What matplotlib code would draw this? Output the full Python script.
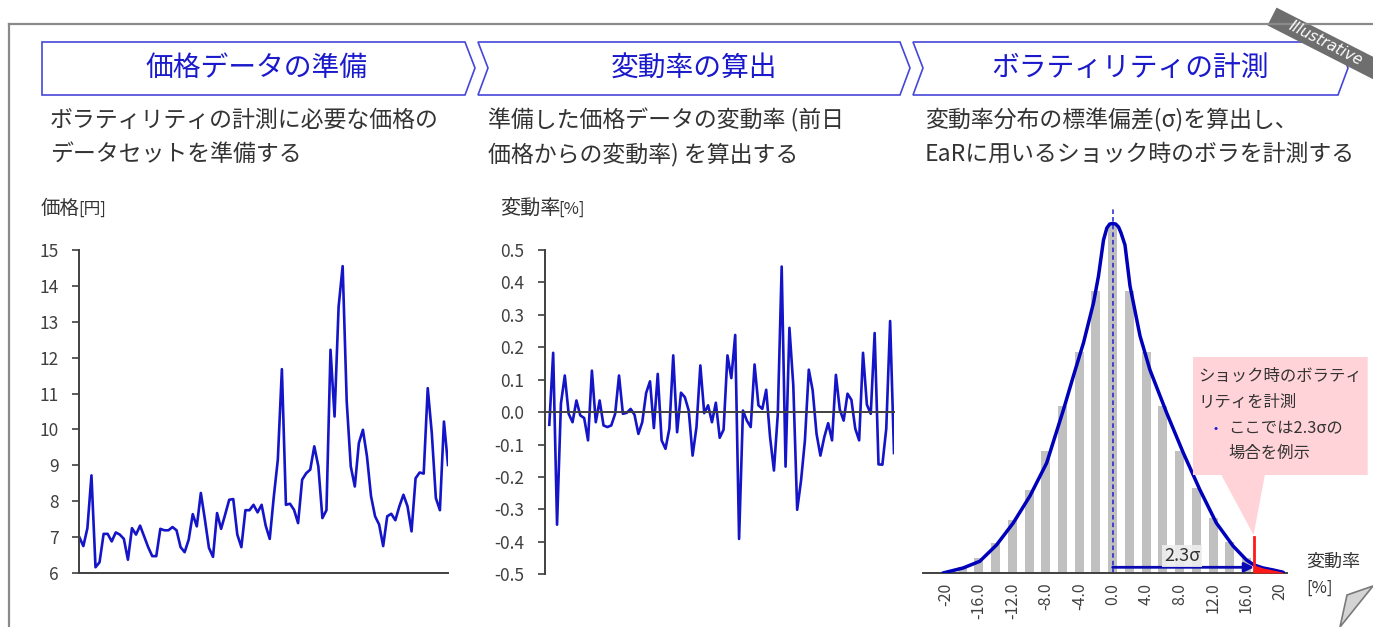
import math
import matplotlib
matplotlib.use('Agg')
import matplotlib.pyplot as plt
from matplotlib.patches import Polygon

plt.rcParams['font.family'] = ['Noto Sans CJK JP', 'DejaVu Sans']
plt.rcParams['axes.unicode_minus'] = False

W, H = 1373, 627

# 価格データ (円)
price = [7.00, 6.75, 7.25, 8.72, 6.16, 6.30, 7.09, 7.09, 6.88, 7.13, 7.07, 6.95,
         6.37, 7.25, 7.07, 7.32, 7.02, 6.72, 6.47, 6.47, 7.23, 7.19, 7.19, 7.28,
         7.19, 6.72, 6.58, 6.93, 7.64, 7.30, 8.23, 7.49, 6.70, 6.45, 7.67, 7.23,
         7.63, 8.04, 8.06, 7.07, 6.72, 7.75, 7.75, 7.90, 7.69, 7.90, 7.32, 6.95,
         8.12, 9.16, 11.68, 7.90, 7.93, 7.76, 7.39, 8.60, 8.78, 8.88, 9.53, 8.97,
         7.53, 7.75, 12.22, 10.36, 13.42, 14.55, 10.78, 8.97, 8.41, 9.62, 9.99, 9.25,
         8.14, 7.58, 7.35, 6.75, 7.58, 7.65, 7.47, 7.86, 8.18, 7.86, 7.16, 8.64,
         8.80, 8.77, 11.15, 9.90, 8.09, 7.75, 10.22, 9.01]

# 前日比の変動率 (%)
returns = [-0.039, 0.183, -0.347, 0.026, 0.113, -0.005, -0.031, 0.036, -0.010, -0.018,
           -0.087, 0.128, -0.031, 0.036, -0.041, -0.046, -0.041, -0.005, 0.113, -0.005,
           -0.002, 0.010, -0.008, -0.067, -0.031, 0.059, 0.095, -0.049, 0.118, -0.087,
           -0.113, -0.051, 0.175, -0.062, 0.060, 0.046, 0.005, -0.134, -0.046, 0.144,
           -0.003, 0.021, -0.031, 0.029, -0.079, -0.054, 0.175, 0.105, 0.238, -0.391,
           0.005, -0.026, -0.046, 0.147, 0.021, 0.010, 0.069, -0.077, -0.180, -0.005,
           0.449, -0.168, 0.260, 0.082, -0.301, -0.211, -0.087, 0.131, 0.067, -0.067,
           -0.134, -0.077, -0.034, -0.087, 0.115, 0.008, -0.026, 0.057, 0.038, -0.051,
           -0.087, 0.183, 0.023, -0.005, 0.244, -0.161, -0.162, -0.051, 0.281, -0.126]

# 変動率分布 (度数)
bin_centers = [-18, -16, -14, -12, -10, -8, -6, -4, -2, 0,
               2, 4, 6, 8, 10, 12, 14, 16, 18]
bin_counts = [6, 15, 30, 53, 83, 122, 167, 221, 282, 348,
              282, 221, 167, 122, 85, 55, 31, 15, 6]

# 分布の平滑化曲線
curve_x = [-20.3, -17.9, -15.9, -13.9, -11.9, -9.9, -7.9, -5.9, -4.7, -3.5, -2.3,
           -1.7, -1.1, -0.7, -0.35, 0.0, 0.35, 0.7, 1.0, 1.47, 2.07, 3.27, 4.46,
           6.46, 8.45, 10.44, 12.4, 14.4, 16.0, 16.9, 18.0, 19.2, 20.4]
curve_y = [0, 5, 11.7, 28, 50, 77, 110, 163, 197, 230, 270,
           297, 333, 345, 349, 349.5, 349, 346, 340, 328, 287, 237, 203,
           160, 120, 83, 50, 27, 13, 8, 5, 3, 0.7]

shock_x = 16.9      # 2.3σ
shock_label = '2.3σ'
hist_ticks = [-20, -16, -12, -8, -4, 0, 4, 8, 12, 16, 20]
hist_ticklabels = ['-20', '-16.0', '-12.0', '-8.0', '-4.0', '0.0',
                   '4.0', '8.0', '12.0', '16.0', '20']

BLUE = '#1414c8'
DARK = '#404040'
TEXT = '#333333'

fig = plt.figure(figsize=(W / 100, H / 100), dpi=100)


def rect(x0, y0, x1, y1):
    return [x0 / W, 1 - y1 / H, (x1 - x0) / W, (y1 - y0) / H]


# 背景レイヤー (ピクセル座標)
bg = fig.add_axes([0, 0, 1, 1])
bg.set_xlim(0, W)
bg.set_ylim(H, 0)
bg.axis('off')

# 外枠
bg.plot([9, W], [24, 24], color='#8a8a8a', lw=1.6)
bg.plot([9, 9], [24, H], color='#8a8a8a', lw=1.6)

# ヘッダーの矢羽
chevrons = [
    [(42, 42), (465, 42), (475, 68), (465, 95), (42, 95)],
    [(478, 42), (900, 42), (910, 68), (900, 95), (478, 95), (488, 68)],
    [(913, 42), (1338, 42), (1348, 68), (1338, 95), (913, 95), (923, 68)],
]
titles = ['価格データの準備', '変動率の算出', 'ボラティリティの計測']
centers = [256, 694, 1130]
for pts, t, cx in zip(chevrons, titles, centers):
    bg.add_patch(Polygon(pts, closed=True, fc='white', ec='#4646d8', lw=1.2))
    bg.text(cx, 68, t, ha='center', va='center', fontsize=20, color='#1a1acc')

descs = [
    (50, ['ボラティリティの計測に必要な価格の', 'データセットを準備する']),
    (488, ['準備した価格データの変動率 (前日', '価格からの変動率) を算出する']),
    (925, ['変動率分布の標準偏差(σ)を算出し、', 'EaRに用いるショック時のボラを計測する']),
]
for x0, lines in descs:
    for i, ln in enumerate(lines):
        bg.text(x0, 120 + 34 * i, ln, ha='left', va='center', fontsize=16.5, color=TEXT)

# 軸タイトル
bg.text(41, 208, '価格', ha='left', va='center', fontsize=14, color=TEXT)
bg.text(78, 209, '[円]', ha='left', va='center', fontsize=12, color=TEXT)
bg.text(500, 208, '変動率', ha='left', va='center', fontsize=14.5, color=TEXT)
bg.text(558, 209, '[%]', ha='left', va='center', fontsize=12, color=TEXT)
bg.text(1306, 562, '変動率', ha='left', va='center', fontsize=13, color=TEXT)
bg.text(1306, 588, '[%]', ha='left', va='center', fontsize=12, color=TEXT)

# Illustrative の帯
ang = math.radians(27)
dx, dy = math.cos(ang), math.sin(ang)
px, py = -dy, dx
cx0, cy0 = 1272, 16.5
hw = 10
band = [(cx0 + px * hw, cy0 + py * hw), (cx0 - px * hw, cy0 - py * hw),
        (cx0 - px * hw + dx * 160, cy0 - py * hw + dy * 160),
        (cx0 + px * hw + dx * 160, cy0 + py * hw + dy * 160)]
bg.add_patch(Polygon(band, closed=True, fc='#6e6e6e', ec='none'))
bg.text(cx0 + dx * 60, cy0 + dy * 60, 'Illustrative', rotation=-27,
        rotation_mode='anchor', ha='center', va='center', fontsize=11,
        color='white', style='italic', family='DejaVu Sans')

# ページの折り返し
bg.add_patch(Polygon([(1347, 595), (1373, 586), (1340, 627)], closed=True,
                     fc='#d4d4d4', ec='#7a7a7a', lw=1.2))


def style_axis(ax):
    for s in ['top', 'right']:
        ax.spines[s].set_visible(False)
    for s in ['left', 'bottom']:
        ax.spines[s].set_color(DARK)
        ax.spines[s].set_linewidth(1.4)
    ax.tick_params(axis='y', length=5, width=1.2, color=DARK, labelcolor=DARK,
                   labelsize=12.5, pad=10)
    ax.tick_params(axis='x', bottom=False, labelbottom=False)
    ax.patch.set_alpha(0)


# 価格
ax1 = fig.add_axes(rect(79.3, 250, 448, 573))
ax1.plot(range(len(price)), price, color=BLUE, lw=1.9)
ax1.set_xlim(0, len(price) - 1)
ax1.set_ylim(6, 15)
ax1.set_yticks(range(6, 16))
style_axis(ax1)

# 変動率
ax2 = fig.add_axes(rect(545, 250, 894, 574.3))
n2 = len(returns)
step = (894 - 549.3) / (n2 - 1)
ax2.plot(range(n2), returns, color=BLUE, lw=1.9)
ax2.set_xlim(-4.3 / step, n2 - 1)
ax2.set_ylim(-0.5, 0.5)
ax2.set_yticks([0.5, 0.4, 0.3, 0.2, 0.1, 0.0, -0.1, -0.2, -0.3, -0.4, -0.5])
ax2.set_yticklabels(['%.1f' % v for v in ax2.get_yticks()])
ax2.spines['bottom'].set_position(('data', 0))
style_axis(ax2)

# 変動率分布
ax3 = fig.add_axes(rect(923, 208, 1287, 573))
ax3.set_xlim((923 - 1112.7) / 8.36, (1287 - 1112.7) / 8.36)
ax3.set_ylim(0, 365)
ax3.bar(bin_centers, bin_counts, width=1.08, color='#c0c0c0', zorder=1)
ax3.plot(curve_x, curve_y, color='#0000bb', lw=2.5, zorder=3,
         solid_joinstyle='round', solid_capstyle='round')
tail = [i for i, x in enumerate(curve_x) if x >= shock_x]
ax3.fill_between([curve_x[i] for i in tail], [curve_y[i] for i in tail],
                 color='#ff1a1a', lw=0, zorder=4)
ax3.plot([shock_x, shock_x], [0, 36], color='#ff1a1a', lw=2, zorder=4)
ax3.plot([0, 0], [0, 365], color='#2020d0', lw=1.1, ls=(0, (3, 2)), zorder=2)
ax3.annotate('', xy=(shock_x, 5.7), xytext=(0, 5.7), zorder=5,
             arrowprops=dict(arrowstyle='-|>', color='#0a0ab4', lw=2,
                             mutation_scale=14, shrinkA=0, shrinkB=0))
ax3.text(8.3, 17, shock_label, ha='center', va='center', fontsize=13, color=TEXT,
         zorder=5, bbox=dict(fc='#eeeeee', ec='none', pad=1.5, alpha=0.9))
for s in ['top', 'right', 'left']:
    ax3.spines[s].set_visible(False)
ax3.spines['bottom'].set_color(DARK)
ax3.spines['bottom'].set_linewidth(1.4)
ax3.set_yticks([])
ax3.set_xticks(hist_ticks)
ax3.set_xticklabels(hist_ticklabels, rotation=90)
ax3.tick_params(axis='x', length=0, pad=7, labelsize=11.5, labelcolor=DARK)
ax3.patch.set_alpha(0)

# 吹き出し
callout = [(9.6, 216), (30.5, 216), (30.5, 98), (18.2, 98), (16.85, 38),
           (13.0, 98), (9.6, 98)]
ax3.add_patch(Polygon(callout, closed=True, fc='#ffd3d8', ec='none',
                      zorder=6, clip_on=False))
for x0, y0, t, c in [(1198, 376, 'ショック時のボラティ', TEXT),
                     (1198, 402, 'リティを計測', TEXT),
                     (1214, 428, '•', '#1a1acc'),
                     (1228, 428, 'ここでは2.3σの', TEXT),
                     (1228, 453, '場合を例示', TEXT)]:
    ax3.text(x0, y0, t, transform=bg.transData, ha='left', va='center',
             fontsize=11.8 if t != '•' else 9, color=c, zorder=7, clip_on=False)

fig.savefig('out.png', dpi=100)
